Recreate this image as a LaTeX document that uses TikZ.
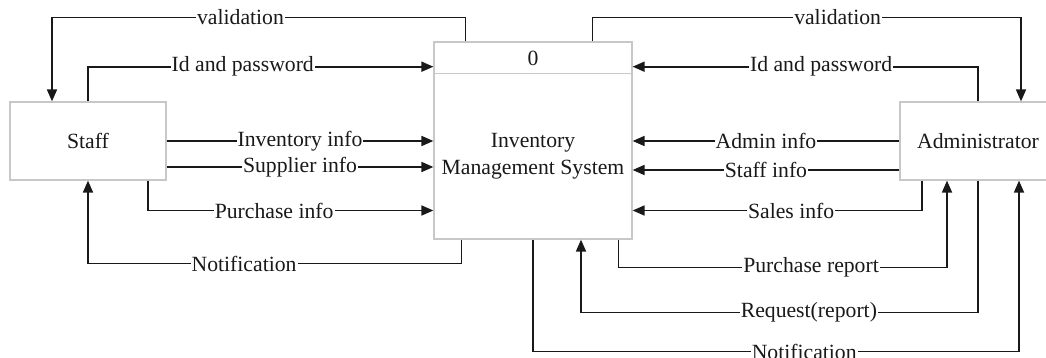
\documentclass[tikz,border=0pt]{standalone}
\usepackage{fontspec}
\setmainfont{Liberation Serif}
\usetikzlibrary{arrows.meta}
\definecolor{boxgray}{RGB}{200,200,200}
\definecolor{ink}{RGB}{25,25,25}
\begin{document}
\begin{tikzpicture}[x=1pt,y=-1pt,
  font=\fontsize{21.7}{27}\selectfont, text=ink,
  entity/.style={draw=boxgray, line width=1.2pt, minimum width=156pt, minimum height=78pt, inner sep=0pt},
  process/.style={draw=boxgray, line width=1.2pt, minimum width=198pt, minimum height=197pt, inner sep=0pt},
  flow/.style={draw=ink, line width=1.7pt, -{Triangle[length=12pt,width=10pt]}},
  lbl/.style={fill=white, inner xsep=1pt, inner ysep=0pt}]
\useasboundingbox (0,0) rectangle (1046,358);

% external entities and the process
\node[entity] (staff) at (88,141) {Staff};
\node[entity] (adm) at (978,141) {Administrator};
\node[process] (sys) at (533,140.5) {};
\draw[boxgray, line width=1.2pt] ([yshift=-32.5pt]sys.north west) -- ([yshift=-32.5pt]sys.north east);
\node (num) at (533,58) {0};
\node[align=center] (title) at (533,156.5) {Inventory\\Management System};

% flows between Staff and the system
\draw[flow] ([xshift=32pt]sys.north west) -- ++(0,-24)
  -| node[lbl,pos=0.272] {validation} ([xshift=-36pt]staff.north);
\draw[flow] (staff.north)
  |- node[lbl,pos=0.724] {Id and password} ([yshift=73.8pt]sys.west);
\draw[flow] (staff.east) -- node[lbl] {Inventory info} (staff.east -| sys.west);
\draw[flow] ([yshift=-26pt]staff.east) -- node[lbl] {Supplier info} ([yshift=-26pt]staff.east -| sys.west);
\draw[flow] ([xshift=60pt]staff.south)
  |- node[lbl,pos=0.721] {Purchase info} ([yshift=-70pt]sys.west);
\draw[flow] ([xshift=28pt]sys.south west) -- ++(0,24)
  -| node[lbl,pos=0.291] {Notification} (staff.south);

% flows between Administrator and the system
\draw[flow] ([xshift=-40pt]sys.north east) -- ++(0,-24)
  -| node[lbl,pos=0.286] {validation} ([xshift=43pt]adm.north);
\draw[flow] (adm.north)
  |- node[lbl,pos=0.727] {Id and password} ([yshift=73.8pt]sys.east);
\draw[flow] (adm.west) -- node[lbl] {Admin info} (adm.west -| sys.east);
\draw[flow] ([yshift=-29pt]adm.west) -- node[lbl] {Staff info} ([yshift=-29pt]adm.west -| sys.east);
\draw[flow] ([xshift=-56pt]adm.south)
  |- node[lbl,pos=0.726] {Sales info} ([yshift=-70pt]sys.east);
\draw[flow] ([xshift=-14pt]sys.south east) -- ++(0,28)
  -| node[lbl,pos=0.293] {Purchase report} ([xshift=-31pt]adm.south);
\draw[flow] (adm.south) -- ++(0,132)
  -| node[lbl,pos=0.213] {Request(report)} ([xshift=48pt]sys.south);
\draw[flow] (sys.south) -- ++(0,112)
  -| node[lbl,pos=0.279] {Notification} ([xshift=41pt]adm.south);
\end{tikzpicture}
\end{document}
